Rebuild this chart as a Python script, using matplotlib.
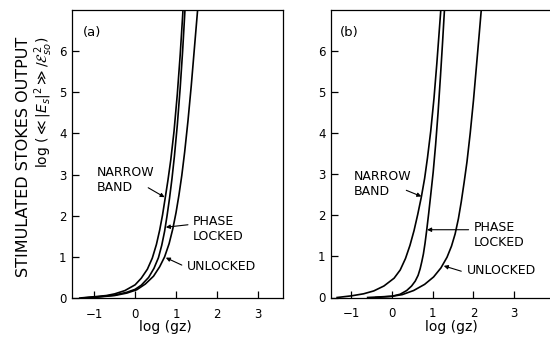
import matplotlib
matplotlib.use("Agg")
import matplotlib.pyplot as plt

# ---- data (x = log(gz), y = log(<<|Es|^2>>/Eso^2)) ----
a_narrow_x = [-1.35, -1.0, -0.7, -0.5, -0.25, 0.0, 0.15, 0.3, 0.42, 0.52, 0.6, 0.67, 0.73, 0.8, 0.87, 0.95, 1.03, 1.1, 1.16, 1.175]
a_narrow_y = [0.0, 0.03, 0.06, 0.1, 0.18, 0.32, 0.48, 0.7, 0.97, 1.3, 1.65, 2.02, 2.4, 2.85, 3.35, 4.05, 4.95, 5.9, 6.85, 7.1]
a_phase_x = [-1.3, -1.0, -0.5, -0.2, 0.0, 0.15, 0.33, 0.46, 0.57, 0.65, 0.72, 0.78, 0.84, 0.9, 0.96, 1.03, 1.1, 1.16, 1.22]
a_phase_y = [0.0, 0.02, 0.07, 0.14, 0.21, 0.31, 0.5, 0.72, 0.98, 1.28, 1.62, 2.0, 2.42, 2.9, 3.45, 4.2, 5.1, 6.0, 7.05]
a_unlock_x = [-1.25, -1.0, -0.5, -0.2, 0.04, 0.25, 0.45, 0.6, 0.72, 0.83, 0.92, 1.0, 1.07, 1.14, 1.21, 1.29, 1.37, 1.45, 1.53]
a_unlock_y = [0.0, 0.015, 0.06, 0.12, 0.2, 0.34, 0.53, 0.76, 1.0, 1.32, 1.68, 2.08, 2.5, 2.98, 3.55, 4.3, 5.15, 6.1, 7.05]

b_narrow_x = [-1.35, -1.0, -0.7, -0.45, -0.2, 0.05, 0.2, 0.33, 0.44, 0.54, 0.63, 0.72, 0.8, 0.87, 0.95, 1.03, 1.1, 1.16, 1.205]
b_narrow_y = [0.0, 0.04, 0.09, 0.16, 0.28, 0.47, 0.67, 0.95, 1.27, 1.63, 2.02, 2.45, 2.9, 3.4, 4.05, 4.85, 5.7, 6.5, 7.1]
b_phase_x = [-0.4, 0.0, 0.2, 0.36, 0.48, 0.57, 0.64, 0.69, 0.73, 0.77, 0.81, 0.85, 0.9, 0.95, 1.01, 1.07, 1.13, 1.19, 1.24, 1.29]
b_phase_y = [0.0, 0.03, 0.08, 0.17, 0.28, 0.4, 0.54, 0.7, 0.87, 1.06, 1.32, 1.63, 2.05, 2.5, 3.05, 3.72, 4.5, 5.4, 6.2, 7.05]
b_unlock_x = [-0.6, 0.0, 0.25, 0.53, 0.8, 1.02, 1.2, 1.35, 1.46, 1.55, 1.63, 1.7, 1.77, 1.84, 1.92, 2.0, 2.07, 2.14, 2.2]
b_unlock_y = [0.0, 0.03, 0.07, 0.17, 0.32, 0.5, 0.72, 0.98, 1.25, 1.55, 1.92, 2.33, 2.8, 3.3, 4.0, 4.8, 5.6, 6.4, 7.1]

x_ticks = [-1, 0, 1, 2, 3]
x_ticklabels = ["\u22121", "0", "1", "2", "3"]
y_ticks = [0, 1, 2, 3, 4, 5, 6]
y_ticklabels = ["0", "1", "2", "3", "4", "5", "6"]

panel_labels = ["(a)", "(b)"]
curve_labels = ["NARROW\nBAND", "PHASE\nLOCKED", "UNLOCKED"]
x_label = "log (gz)"
y_label_1 = "STIMULATED STOKES OUTPUT"
y_label_2 = r"log ($\ll |E_s|^2 \gg / \mathcal{E}_{so}^{\,2}$)"

plt.rcParams["font.family"] = ["DejaVu Sans"]
W, H = 550, 339
fig = plt.figure(figsize=(W / 100, H / 100), dpi=100)

ax_a = fig.add_axes([72 / W, 1 - 298 / H, (283 - 72) / W, (298 - 10) / H])
ax_b = fig.add_axes([331 / W, 1 - 297.5 / H, (550 - 331) / W, (297.5 - 10) / H])

lw = 1.2
ax_a.plot(a_narrow_x, a_narrow_y, color="black", lw=lw)
ax_a.plot(a_phase_x, a_phase_y, color="black", lw=lw)
ax_a.plot(a_unlock_x, a_unlock_y, color="black", lw=lw)
ax_b.plot(b_narrow_x, b_narrow_y, color="black", lw=lw)
ax_b.plot(b_phase_x, b_phase_y, color="black", lw=lw)
ax_b.plot(b_unlock_x, b_unlock_y, color="black", lw=lw)

ax_a.set_xlim(-1.54, 3.61)
ax_b.set_xlim(-1.5, 3.88)
for ax, lab in zip([ax_a, ax_b], panel_labels):
    ax.set_ylim(0, 7.0)
    ax.set_xticks(x_ticks)
    ax.set_xticklabels(x_ticklabels)
    ax.set_yticks(y_ticks)
    ax.set_yticklabels(y_ticklabels)
    ax.tick_params(direction="in", length=5, width=0.9, labelsize=8.5, pad=4)
    ax.tick_params(axis="x", pad=7)
    for s in ax.spines.values():
        s.set_linewidth(0.9)
    ax.text(-1.28, 6.45, lab, fontsize=9.5, ha="left", va="center")
ax_b.spines["right"].set_visible(False)

fs = 9
arrow = dict(arrowstyle="-|>", color="black", lw=0.8, mutation_scale=6, shrinkA=0, shrinkB=0)

# panel (a) annotations
ax_a.text(-0.93, 2.86, curve_labels[0], fontsize=fs, ha="left", va="center", linespacing=1.2)
ax_a.annotate("", xy=(0.72, 2.45), xytext=(0.32, 2.68), arrowprops=arrow)
ax_a.text(1.41, 1.67, curve_labels[1], fontsize=fs, ha="left", va="center", linespacing=1.2)
ax_a.annotate("", xy=(0.75, 1.72), xytext=(1.29, 1.78), arrowprops=arrow)
ax_a.text(1.27, 0.76, curve_labels[2], fontsize=fs, ha="left", va="center")
ax_a.annotate("", xy=(0.75, 0.98), xytext=(1.14, 0.80), arrowprops=arrow)

# panel (b) annotations
ax_b.text(-0.95, 2.77, curve_labels[0], fontsize=fs, ha="left", va="center", linespacing=1.2)
ax_b.annotate("", xy=(0.72, 2.46), xytext=(0.35, 2.61), arrowprops=arrow)
ax_b.text(2.0, 1.53, curve_labels[1], fontsize=fs, ha="left", va="center", linespacing=1.2)
ax_b.annotate("", xy=(0.86, 1.65), xytext=(1.88, 1.65), arrowprops=arrow)
ax_b.text(1.83, 0.65, curve_labels[2], fontsize=fs, ha="left", va="center")
ax_b.annotate("", xy=(1.27, 0.77), xytext=(1.7, 0.64), arrowprops=arrow)

# axis labels
fig.text(165 / W, 1 - 327 / H, x_label, fontsize=10, ha="center", va="center")
fig.text(451 / W, 1 - 327 / H, x_label, fontsize=10, ha="center", va="center")
fig.text(24 / W, 1 - 157 / H, y_label_1, fontsize=11.5, rotation=90, ha="center", va="center")
fig.text(44 / W, 1 - 102 / H, y_label_2, fontsize=10, rotation=90, ha="center", va="center")

fig.savefig("out.png", dpi=100)
